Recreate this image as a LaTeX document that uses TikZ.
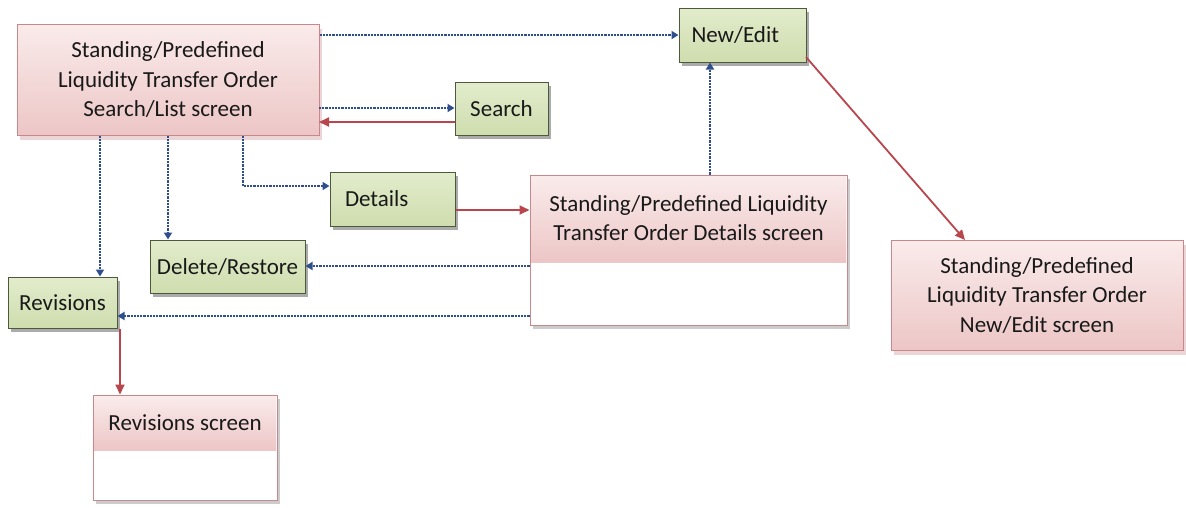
\documentclass[tikz,border=0pt]{standalone}
\usepackage{fontspec}
\setmainfont{Carlito}
\usetikzlibrary{shadows,arrows.meta}
\definecolor{gfill}{HTML}{CFDDAE}
\definecolor{gfilltop}{HTML}{E2ECCC}
\definecolor{gline}{HTML}{4A5A3A}
\definecolor{pfill}{HTML}{EDC6C6}
\definecolor{pfilltop}{HTML}{FAEBEB}
\definecolor{pline}{HTML}{C8878A}
\definecolor{bl}{HTML}{2E4F8C}
\definecolor{rd}{HTML}{B9464C}
\tikzset{
  gbox/.style={draw=gline, line width=1pt, top color=gfilltop, bottom color=gfill,
    drop shadow={shadow xshift=3pt, shadow yshift=-4pt, fill=black!55, opacity=0.6},
    inner sep=0pt, font=\fontsize{23}{28}\selectfont, text=black!90},
  pbox/.style={draw=pline, line width=1pt, top color=pfilltop, bottom color=pfill,
    drop shadow={shadow xshift=2.5pt, shadow yshift=-5pt, fill=pline!70, opacity=0.5},
    inner sep=0pt, font=\fontsize{23}{29.5}\selectfont, align=center, text=black!90},
  wbox/.style={draw=pline, line width=1pt, fill=white,
    drop shadow={shadow xshift=2.5pt, shadow yshift=-4pt, fill=black!40, opacity=0.5}},
  dlink/.style={bl, line width=2.2pt, densely dotted, -{Triangle[length=7pt,width=8pt]}},
  rlink/.style={rd, line width=1.8pt, -{Triangle[length=10pt,width=9pt]}},
  txt/.style={font=\fontsize{23}{29.5}\selectfont, align=center, text=black!90}
}
\begin{document}
\begin{tikzpicture}[x=1pt,y=-1pt]
\useasboundingbox (0,0) rectangle (1186,507);
% Search/List screen
\node[pbox, minimum width=302pt, minimum height=111pt] (sl) at (168,79.5)
  {Standing/Predefined\\Liquidity Transfer Order\\Search/List screen};
% green boxes
\node[gbox, minimum width=127pt, minimum height=54pt, text width=102pt, align=left] (ne) at (742.5,35) {New/Edit};
\node[gbox, minimum width=93pt, minimum height=53pt] (se) at (501.5,108.5) {Search};
\node[gbox, minimum width=125pt, minimum height=54pt, text width=95pt, align=left] (de) at (392.5,199) {Details};
\node[gbox, minimum width=155pt, minimum height=53pt] (dr) at (227.5,266.5) {Delete/Restore};
\node[gbox, minimum width=109pt, minimum height=51pt] (rv) at (62.5,302.5) {Revisions};
% Details screen
\node[wbox, minimum width=317pt, minimum height=150pt] (ds) at (688.5,250) {};
\path[top color=pfilltop, bottom color=pfill] (531,176) rectangle (846,262);
\node[txt] (dst) at (688.5,218) {Standing/Predefined Liquidity\\Transfer Order Details screen};
% New/Edit screen
\node[pbox, minimum width=292pt, minimum height=110pt] (nes) at (1037,295)
  {Standing/Predefined\\Liquidity Transfer Order\\New/Edit screen};
% Revisions screen
\node[wbox, minimum width=184pt, minimum height=105pt] (rs) at (185,447.5) {};
\path[top color=pfilltop, bottom color=pfill] (94,396) rectangle (276,450);
\node[txt] (rst) at (185,423) {Revisions screen};
% connectors
\draw[dlink] (sl.east |- ne.west) -- (ne.west);
\draw[dlink] (319,108) -- (se.west |- 0,108);
\draw[rlink] (se.west |- 0,122) -- (319,122);
\draw[dlink] (sl.south -| 100,0) -- (rv.north -| 100,0);
\draw[dlink] (sl.south -| 168,0) -- (dr.north -| 168,0);
\draw[dlink] (sl.south -| 243,0) -- (243,186) -- (de.west |- 0,186);
\draw[rlink] (de.east |- 0,210) -- (ds.west |- 0,210);
\draw[dlink] (ds.west |- 0,266) -- (dr.east |- 0,266);
\draw[dlink] (ds.west |- 0,316) -- (rv.east |- 0,316);
\draw[dlink] (ds.north -| 710,0) -- (ne.south -| 710,0);
\draw[rlink] (806,57) -- (965,240);
\draw[rlink] (rv.south -| 120,0) -- (rs.north -| 120,0);
\end{tikzpicture}
\end{document}
